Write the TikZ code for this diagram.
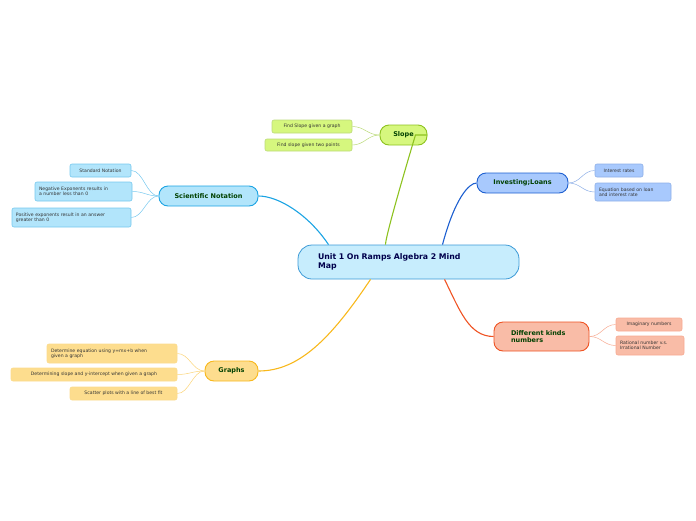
\documentclass[tikz,border=0pt]{standalone}
\usepackage{fontspec}
\setmainfont{DejaVu Sans}
\begin{document}
\begin{tikzpicture}[x=1pt,y=-1pt,
 box/.style={rounded corners=#1,draw,line width=0.6pt,inner sep=0pt,anchor=center},
 mainb/.style={box=9pt,font=\bfseries\fontsize{6.5}{7.5}\selectfont,text=green!25!black,line width=0.9pt},
 leaf/.style={box=2pt,font=\fontsize{4.6}{5.4}\selectfont,text=black!80,align=left},
 link/.style={line width=1.1pt},
 sub/.style={line width=0.5pt}]
\definecolor{slF}{HTML}{D6F77E}\definecolor{slD}{HTML}{8DC21F}
\definecolor{scF}{HTML}{B2E5FB}\definecolor{scD}{HTML}{1AA3E3}
\definecolor{inF}{HTML}{A8C9FD}\definecolor{inD}{HTML}{1D5FD0}
\definecolor{diF}{HTML}{F9BCA7}\definecolor{diD}{HTML}{EF5323}
\definecolor{grF}{HTML}{FDDD8E}\definecolor{grD}{HTML}{F8B81C}
\definecolor{ceF}{HTML}{C7EDFD}\definecolor{ceD}{HTML}{3C9AD6}
\useasboundingbox (0,0) rectangle (696,520);
\node[box=14pt,fill=ceF,draw=ceD,line width=0.8pt,minimum width=221,minimum height=34,text width=181,align=left,font=\bfseries\fontsize{7.8}{9.5}\selectfont,text=blue!30!black] (c) at (408.5,262) {Unit 1 On Ramps Algebra 2 Mind\\Map};
% Slope
\node[mainb,fill=slF,draw=slD,minimum width=47,minimum height=20] (sl) at (403.5,135) {Slope};
\node[leaf,fill=slF,draw=slD!60,minimum width=80,minimum height=13] (sl1) at (312,126.5) {Find Slope given a graph};
\node[leaf,fill=slF,draw=slD!60,minimum width=87,minimum height=12] (sl2) at (308.5,145) {Find slope given two points};
% Sci
\node[mainb,fill=scF,draw=scD,minimum width=99,minimum height=20] (sc) at (208.5,196) {Scientific Notation};
\node[leaf,fill=scF,draw=scD!60,minimum width=61,minimum height=13] (sc1) at (100.5,170.5) {Standard Notation};
\node[leaf,fill=scF,draw=scD!60,minimum width=97,minimum height=19,text width=89] (sc2) at (83.5,191.5) {Negative Exponents results in\\a number less than 0};
\node[leaf,fill=scF,draw=scD!60,minimum width=119,minimum height=19,text width=111] (sc3) at (71.5,217.5) {Positive exponents result in an answer\\greater than 0};
% Invest
\node[mainb,fill=inF,draw=inD,minimum width=91,minimum height=20] (in) at (522.5,183) {Investing;Loans};
\node[leaf,fill=inF,draw=inD!50,minimum width=48,minimum height=13] (in1) at (619,170.5) {Interest rates};
\node[leaf,fill=inF,draw=inD!50,minimum width=76,minimum height=18,text width=68] (in2) at (633,192) {Equation based on loan\\and interest rate};
% Different
\node[mainb,fill=diF,draw=diD,minimum width=95,minimum height=29,text width=61,align=left] (di) at (541.5,336.5) {Different kinds\\numbers};
\node[leaf,fill=diF,draw=diD!50,minimum width=66,minimum height=13] (di1) at (649,324.5) {Imaginary numbers};
\node[leaf,fill=diF,draw=diD!50,minimum width=68,minimum height=19,text width=60] (di2) at (650,345.5) {Rational number v.s.\\Irrational Number};
% Graphs
\node[mainb,fill=grF,draw=grD,minimum width=53,minimum height=20] (gr) at (231.5,371) {Graphs};
\node[leaf,fill=grF,draw=grD!50,minimum width=130,minimum height=19,text width=122] (gr1) at (112,353.5) {Determine equation using y=mx+b when\\given a graph};
\node[leaf,fill=grF,draw=grD!50,minimum width=166,minimum height=13] (gr2) at (94,374.5) {Determining slope and y-intercept when given a graph};
\node[leaf,fill=grF,draw=grD!50,minimum width=107,minimum height=13] (gr3) at (123.5,393.5) {Scatter plots with a line of best fit};
% main links
\draw[link,draw=slD] ([xshift=-23pt]c.north) .. controls +(0,-10) and +(0,0) .. ([xshift=-12pt]sl.east) -- (sl.east);
\draw[link,draw=scD] ([xshift=-80pt]c.north) .. controls +(-20,-30) and +(20,0) .. (sc.east);
\draw[link,draw=inD] ([xshift=34pt]c.north) .. controls +(12,-45) and +(-8,0) .. (in.west);
\draw[link,draw=diD] ([xshift=36pt]c.south) .. controls +(15,30) and +(-25,0) .. (di.west);
\draw[link,draw=grD] ([xshift=-38pt]c.south) .. controls +(-40,60) and +(40,0) .. (gr.east);
% sub links
\foreach \a/\b/\col in {sl/sl1/slD,sl/sl2/slD,sc/sc1/scD,sc/sc2/scD,sc/sc3/scD,gr/gr1/grD,gr/gr2/grD,gr/gr3/grD}
  \draw[sub,draw=\col!60] (\a.west) .. controls +(-12,0) and +(12,0) .. (\b.east);
\foreach \a/\b/\col in {in/in1/inD,in/in2/inD,di/di1/diD,di/di2/diD}
  \draw[sub,draw=\col!50] (\a.east) .. controls +(12,0) and +(-12,0) .. (\b.west);
\end{tikzpicture}
\end{document}
